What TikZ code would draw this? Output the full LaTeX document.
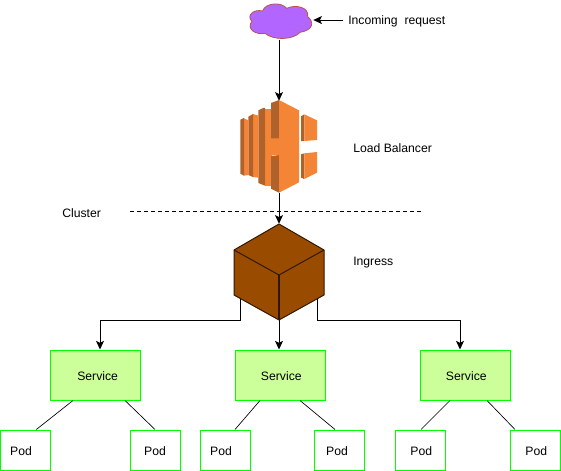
\documentclass[tikz,border=0pt]{standalone}
\usepackage{fontspec}
\setmainfont{Liberation Sans}
\usetikzlibrary{arrows.meta}
\definecolor{svcfill}{HTML}{CCFF99}
\definecolor{boxline}{HTML}{00FF00}
\definecolor{cloudfill}{HTML}{B266FF}
\definecolor{cloudline}{HTML}{B85450}
\definecolor{lightor}{HTML}{F58536}
\definecolor{darkor}{HTML}{B0622B}
\definecolor{cubefill}{HTML}{994C00}
\definecolor{cubeline}{HTML}{301800}
\tikzset{
  lbl/.style={font=\fontsize{9.15}{11}\selectfont,inner sep=0pt,anchor=base west},
  svcbox/.style={draw=boxline,fill=svcfill,line width=.75pt,minimum width=67.5pt,minimum height=37.5pt,inner sep=0pt,text height=8pt,text depth=0pt,font=\fontsize{9.15}{11}\selectfont},
  podbox/.style={draw=boxline,fill=white,line width=.75pt,minimum width=37.5pt,minimum height=30pt,inner sep=0pt,text height=8pt,text depth=0pt,font=\fontsize{9.15}{11}\selectfont},
  anchorbox/.style={inner sep=0pt,minimum width=#1},
  conn/.style={line width=.75pt,-{Stealth[length=6.5pt,width=6pt,inset=1.5pt]}},
  plainline/.style={line width=.75pt},
  thinline/.style={line width=.5pt}
}
\begin{document}
\begin{tikzpicture}[x=.75pt,y=-.75pt]
\useasboundingbox (0,0) rectangle (561,471);
% anchor nodes for the drawn shapes
\node[anchorbox=48pt,minimum height=27pt] (cloud) at (279,21.5) {};
\node[anchorbox=57pt,minimum height=69pt] (lb) at (279,147) {};
\node[anchorbox=67.5pt,minimum height=72pt] (ing) at (279,272) {};
% boxes
\node[svcbox] (s1) at (95,375) {\hspace*{4pt}Service};
\node[svcbox] (s2) at (280,375) {\hspace*{2pt}Service};
\node[svcbox] (s3) at (465,375) {\hspace*{2pt}Service};
\node[podbox] (p1) at (25,450) {\hspace*{-6pt}Pod};
\node[podbox] (p2) at (155,450) {Pod};
\node[podbox] (p3) at (225,450) {\hspace*{-6pt}Pod};
\node[podbox] (p4) at (339,450) {\hspace*{-3pt}Pod};
\node[podbox] (p5) at (420,450) {\hspace*{2pt}Pod};
\node[podbox] (p6) at (535,450) {\hspace*{2pt}Pod};
% labels
\node[lbl] (inc) at (348,25) {Incoming\ \ request};
\node[lbl] (lbt) at (353,152) {Load Balancer};
\node[lbl] (cl) at (62,217) {Cluster};
\node[lbl] (ingt) at (353,265) {Ingress};
% connectors
\coordinate (d1) at (130,211);
\coordinate (d2) at (421,211);
\draw[plainline,dash pattern=on 3pt off 2.25pt] (d1) -- (d2);
\coordinate (ia) at ([xshift=1.5pt,yshift=1.1pt]cloud.east);
\draw[conn] ([xshift=-4pt]ia -| inc.west) -- (ia);
\draw[conn] (cloud.south) -- (lb.north);
\draw[conn] (lb.south) -- (ing.north);
\draw[conn] (ing.south) -- (ing.south |- s2.north);
\coordinate (bl) at ([xshift=-29.25pt]ing.south);
\coordinate (br) at ([xshift=28.5pt]ing.south);
\coordinate (tl) at ([xshift=3.75pt]s1.north);
\coordinate (tr) at ([xshift=-3.75pt]s3.north);
\draw[conn] ([yshift=16.5pt]bl) -- (bl) -- (bl -| tl) -- (tl);
\draw[conn] ([yshift=16.5pt]br) -- (br) -- (br -| tr) -- (tr);
\draw[thinline] ([xshift=-16.5pt]s1.south) -- ([xshift=8.5pt]p1.north);
\draw[thinline] ([xshift=22.5pt]s1.south) -- (p2.north);
\draw[thinline] ([xshift=-15pt]s2.south) -- ([xshift=7.5pt]p3.north);
\draw[thinline] ([xshift=15pt]s2.south) -- ([xshift=-3pt]p4.north);
\draw[thinline] ([xshift=-11.25pt]s3.south) -- ([xshift=.75pt]p5.north);
\draw[thinline] ([xshift=16.5pt]s3.south) -- ([xshift=-15pt]p6.north);
% cloud
\begin{scope}[shift={(220,0)},x=.25pt,y=-.25pt]
\draw[fill=cloudfill,draw=cloudline,line width=.6pt]
 (96,64) .. controls (78,48) and (100,26) .. (128,33)
 .. controls (135,8) and (185,5) .. (200,25)
 .. controls (225,13) and (268,20) .. (263,50)
 .. controls (282,65) and (282,90) .. (240,97)
 .. controls (220,120) and (160,122) .. (135,100)
 .. controls (105,106) and (78,85) .. (96,64) -- cycle;
\end{scope}
% load balancer
\begin{scope}[shift={(225,95)},x=.25pt,y=-.25pt]
\fill[lightor] (120,42) -- (140,42) -- (140,272) -- (120,272) -- cycle;
\fill[darkor] (100,46) -- (117,38) -- (120,40) -- (120,272) -- (100,264) -- cycle;
\fill[lightor] (84,57) -- (100,62) -- (100,248) -- (84,246) -- cycle;
\fill[darkor] (70,65) -- (84,57) -- (84,246) -- (70,240) -- cycle;
\fill[lightor] (57,70) -- (70,76) -- (70,240) -- (57,242) -- cycle;
\fill[darkor] (46,74) -- (57,69) -- (57,242) -- (46,236) -- cycle;
\fill[lightor] (130,128) -- (222,130) -- (222,178) -- (130,182) -- cycle;
\fill[darkor] (138,24) -- (162,15) -- (162,130) -- (138,130) -- cycle;
\fill[lightor] (162,15) -- (222,46) -- (222,133) -- (162,130) -- cycle;
\fill[darkor] (138,184) -- (162,180) -- (162,293) -- (138,281) -- cycle;
\fill[lightor] (162,180) -- (222,175) -- (222,262) -- (162,293) -- cycle;
\fill[darkor] (228,64) -- (238,58) -- (238,138) -- (228,138) -- cycle;
\fill[lightor] (238,58) -- (276,76) -- (276,135) -- (238,138) -- cycle;
\fill[darkor] (228,178) -- (238,175) -- (238,252) -- (228,248) -- cycle;
\fill[lightor] (238,175) -- (276,171) -- (276,233) -- (238,252) -- cycle;
\end{scope}
% cube
\fill[cubefill] (279,224) -- (324,250) -- (324,295) -- (279,320) -- (234,295) -- (234,250) -- cycle;
\draw[cubeline,line width=.75pt,line join=round] (279,224) -- (324,250) -- (324,295) -- (279,320) -- (234,295) -- (234,250) -- cycle;
\draw[cubeline,line width=.75pt] (234,250) -- (279,275) -- (324,250);
\draw[cubeline,line width=1pt] (279,275) -- (279,320);
\end{tikzpicture}
\end{document}
